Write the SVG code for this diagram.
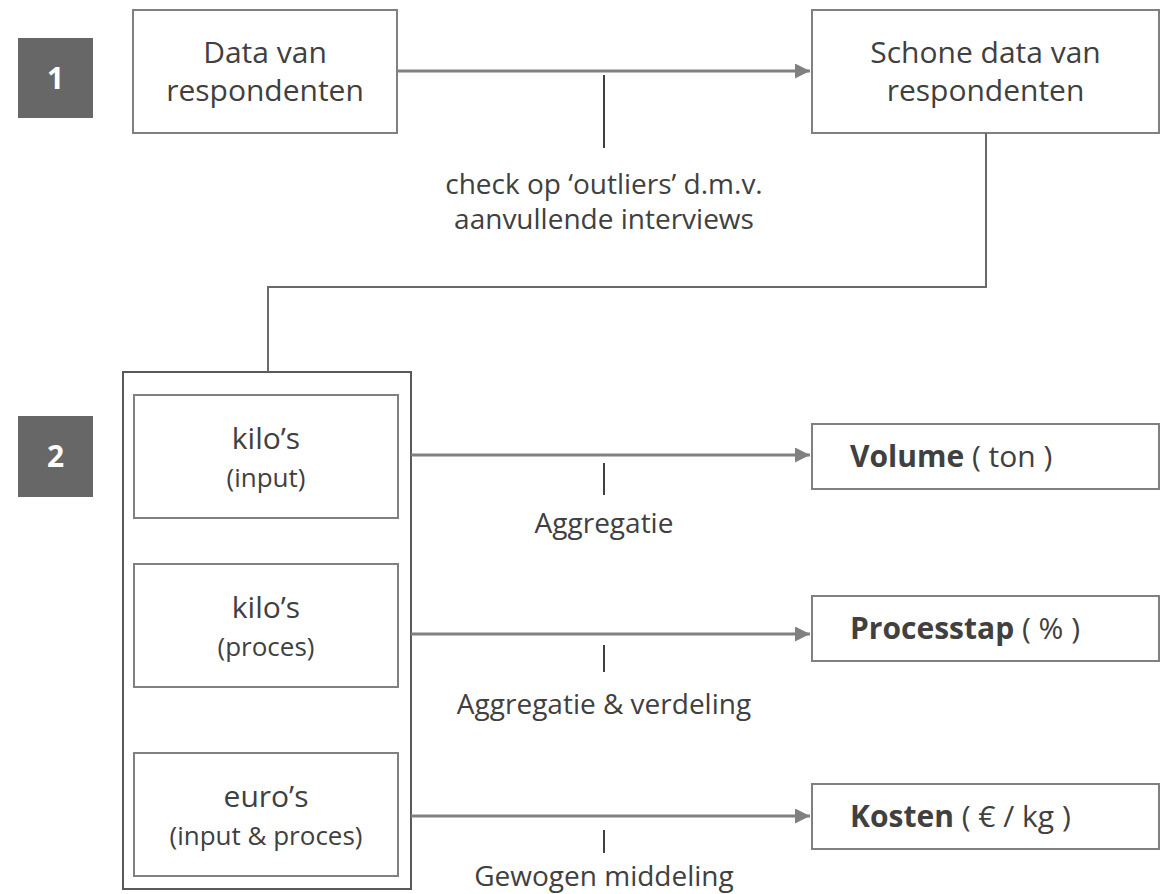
<svg xmlns="http://www.w3.org/2000/svg" width="1166" height="894" viewBox="0 0 1166 894">
<defs>
<style>
.box{fill:#fff;stroke:#808080;stroke-width:2}
.outer{fill:none;stroke:#595959;stroke-width:2}
.badge{fill:#676767}
.badgetxt{font-family:"Open Sans","Noto Sans",sans-serif;font-weight:bold;font-size:30px;fill:#fff;text-anchor:middle}
.t{font-family:"Open Sans","Noto Sans",sans-serif;fill:#404040;text-anchor:middle}
.big{font-size:30px}
.mid{font-size:26px}
.lab{font-size:28px}
.res{font-family:"Open Sans","Noto Sans",sans-serif;fill:#404040;font-size:30px}
.arrow{stroke:#808080;stroke-width:3;fill:none}
.tick{stroke:#404040;stroke-width:2}
</style>
<marker id="ah" viewBox="0 0 10 10" refX="10" refY="5" markerWidth="5" markerHeight="5" markerUnits="strokeWidth" orient="auto">
<path d="M0,0 L10,5 L0,10 z" fill="#808080"/>
</marker>
</defs>
<g id="badge1"><rect class="badge" x="18" y="38" width="75" height="80"/><text class="badgetxt" x="55.5" y="89">1</text></g>
<g id="badge2"><rect class="badge" x="18" y="416" width="75" height="81"/><text class="badgetxt" x="55.5" y="467">2</text></g>
<g id="data"><rect class="box" x="133" y="10" width="264" height="123"/>
<text class="t big" x="265" y="63">Data van</text><text class="t big" x="265" y="101">respondenten</text></g>
<g id="schone"><rect class="box" x="812" y="10" width="347" height="123"/>
<text class="t big" x="985.5" y="63">Schone data van</text><text class="t big" x="985.5" y="101">respondenten</text></g>
<g id="outer"><rect class="outer" x="123" y="372" width="288" height="517"/></g>
<g id="kilo-input"><rect class="box" x="134" y="395" width="264" height="123"/>
<text class="t big" x="266" y="449">kilo’s</text><text class="t mid" x="266" y="487">(input)</text></g>
<g id="kilo-proces"><rect class="box" x="134" y="564" width="264" height="123"/>
<text class="t big" x="266" y="618">kilo’s</text><text class="t mid" x="266" y="656">(proces)</text></g>
<g id="euro"><rect class="box" x="134" y="753" width="264" height="123"/>
<text class="t big" x="266" y="807">euro’s</text><text class="t mid" x="266" y="845">(input &amp; proces)</text></g>
<g id="volume"><rect class="box" x="812" y="424" width="347" height="65"/>
<text class="res" x="850" y="467"><tspan font-weight="bold">Volume</tspan> ( ton )</text></g>
<g id="processtap"><rect class="box" x="812" y="596" width="347" height="65"/>
<text class="res" x="850" y="639"><tspan font-weight="bold">Processtap</tspan> ( % )</text></g>
<g id="kosten"><rect class="box" x="812" y="784" width="347" height="65"/>
<text class="res" x="850" y="827"><tspan font-weight="bold">Kosten</tspan> ( € / kg )</text></g>
<g id="connectors">
<line class="arrow" x1="397" y1="71" x2="810" y2="71" marker-end="url(#ah)"/>
<polyline class="arrow" style="stroke:#6a6a6a;stroke-width:2" points="986,133 986,287 268,287 268,372"/>
<line class="arrow" x1="411" y1="455" x2="810" y2="455" marker-end="url(#ah)"/>
<line class="arrow" x1="411" y1="634" x2="810" y2="634" marker-end="url(#ah)"/>
<line class="arrow" x1="411" y1="816" x2="810" y2="816" marker-end="url(#ah)"/>
<line class="tick" x1="604" y1="75" x2="604" y2="148"/>
<line class="tick" x1="604" y1="463" x2="604" y2="495"/>
<line class="tick" x1="604" y1="645" x2="604" y2="672"/>
<line class="tick" x1="604" y1="830" x2="604" y2="853"/>
</g>
<g id="labels">
<text class="t lab" x="604" y="194">check op ‘outliers’ d.m.v.</text>
<text class="t lab" x="604" y="229">aanvullende interviews</text>
<text class="t lab" x="604" y="533">Aggregatie</text>
<text class="t lab" x="604" y="714">Aggregatie &amp; verdeling</text>
<text class="t lab" x="604" y="886">Gewogen middeling</text>
</g>
</svg>
